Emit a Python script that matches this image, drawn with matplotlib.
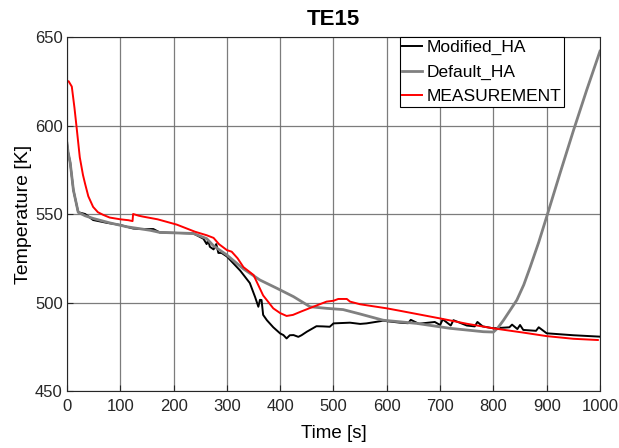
import matplotlib
matplotlib.use("Agg")
import matplotlib.pyplot as plt

plt.rcParams['font.family'] = ['Liberation Sans', 'DejaVu Sans']

title = "TE15"
xlabel = "Time [s]"
ylabel = "Temperature [K]"
xticks = [0, 100, 200, 300, 400, 500, 600, 700, 800, 900, 1000]
yticks = [450, 500, 550, 600, 650]

mod_t = [0, 2, 6, 12, 21, 34, 49, 75, 100, 124, 140, 162, 174, 237, 256, 262, 265, 268,
         275, 280, 284, 290, 300, 325, 343, 353, 359, 362, 365, 368, 375, 387, 400, 406,
         412, 418, 425, 434, 440, 450, 468, 480, 493, 500, 531, 550, 562, 593, 625, 640,
         645, 660, 690, 700, 705, 720, 725, 750, 765, 770, 780, 800, 830, 835, 845, 850,
         856, 880, 885, 900, 950, 1000]
mod_T = [590, 585, 579, 563.5, 551, 550, 546.6, 545, 543.8, 541.8, 541.5, 541.5, 539.6,
         539, 536, 533, 535, 531.5, 530, 533, 528, 528, 526, 518, 511, 503, 497.6, 501.5,
         501.4, 493, 490, 486, 482.5, 481.6, 479.7, 481.5, 481.6, 480.6, 481.5, 483.5,
         486.6, 486.5, 486.3, 488.2, 488.6, 487.9, 488.2, 489.7, 488.6, 488.3, 490.2, 488,
         489, 487.3, 490.5, 487, 490, 487, 486.5, 489, 486.5, 485.4, 486, 487.5, 485,
         487.3, 484.5, 484, 486, 482.6, 481.5, 480.7]

def_t = [0, 2, 6, 12, 21, 34, 49, 80, 112, 156, 174, 237, 250, 262, 275, 300, 331, 362,
         394, 425, 456, 487, 518, 550, 593, 656, 719, 781, 800, 808, 819, 830, 844, 857,
         869, 885, 900, 925, 950, 975, 1000]
def_T = [590, 585, 579, 563.5, 551, 549, 547.5, 545, 542.8, 540.8, 539.6, 539, 537.5,
         536.1, 532, 526.8, 519, 512.7, 508, 503.3, 497.6, 496.7, 496, 493.5, 490, 488.2,
         485.4, 483.5, 483.3, 485.5, 490, 495, 501.4, 510, 520, 534, 548.5, 573, 597, 620, 642]

meas_t = [0, 3, 9, 14, 18, 24, 30, 34, 40, 49, 58, 68, 80, 100, 115, 123, 124, 135, 143,
          170, 206, 240, 262, 275, 285, 300, 309, 320, 331, 350, 368, 387, 400, 412, 424,
          440, 462, 487, 500, 509, 525, 531, 550, 600, 625, 700, 750, 800, 856, 900, 950, 996]
meas_T = [625, 625, 622, 610, 599, 582, 572, 567, 560, 554, 551, 549.5, 548, 547, 546.5,
          546, 550, 549, 548.5, 547, 544, 540, 538, 536.5, 533, 529.6, 528.7, 525, 520,
          515.5, 504, 496.7, 494, 492.4, 493, 495, 497.6, 500.5, 501, 502, 502, 500.5, 499,
          496.7, 495.3, 491, 488, 485.4, 483, 481, 479.5, 478.8]

fig = plt.figure(figsize=(6.19, 4.48), dpi=100)
ax = fig.add_axes([67/619, 57/448, 533/619, 354/448])

ax.plot(mod_t, mod_T, color='black', lw=1.4, label='Modified_HA')
ax.plot(def_t, def_T, color='#808080', lw=2.0, label='Default_HA')
ax.plot(meas_t, meas_T, color='red', lw=1.4, label='MEASUREMENT')

ax.set_xlim(0, 1000)
ax.set_ylim(450, 650)
ax.set_xticks(xticks)
ax.set_yticks(yticks)
ax.grid(True, color='#6e6e6e', lw=0.9, alpha=0.9)
ax.set_axisbelow(True)
ax.tick_params(direction='in', labelsize=12, colors='#262626', length=4)
ax.tick_params(axis='x', pad=6)
ax.tick_params(axis='y', pad=3)
for s in ax.spines.values():
    s.set_color('#262626')
    s.set_linewidth(0.8)

ax.set_title(title, fontsize=16, fontweight='bold', pad=9)
ax.set_xlabel(xlabel, fontsize=13.5, labelpad=8)
ax.set_ylabel(ylabel, fontsize=14, labelpad=2)

leg = ax.legend(loc='upper right', bbox_to_anchor=(0.9325, 1.0), borderaxespad=0,
                fancybox=False, edgecolor='black', framealpha=1, fontsize=12.5,
                handlelength=1.15, handletextpad=0.25, borderpad=0.15, labelspacing=0.55)
leg.get_frame().set_linewidth(0.8)

fig.savefig('out.png', dpi=100)
